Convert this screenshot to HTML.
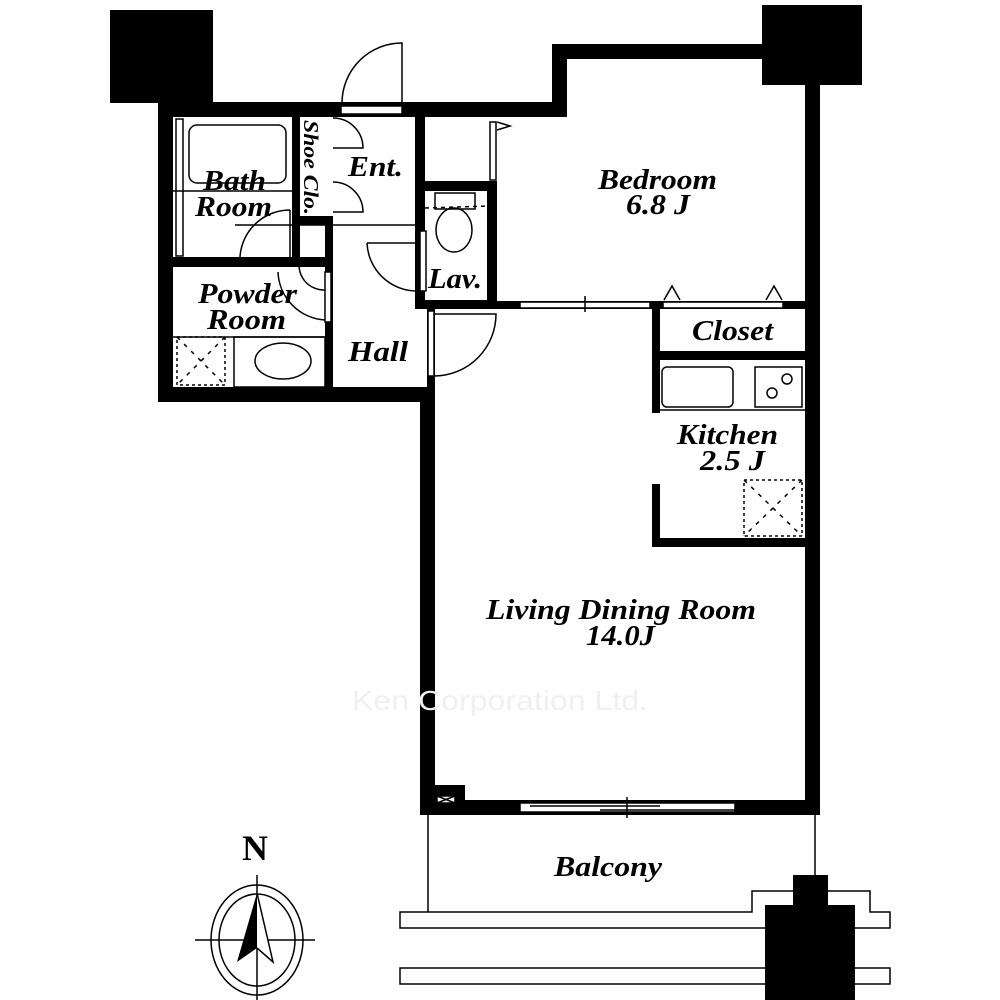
<!DOCTYPE html>
<html><head><meta charset="utf-8"><style>
html,body{margin:0;padding:0;background:#fff;}
svg{display:block;}
text{font-family:"Liberation Serif",serif;font-style:italic;font-weight:bold;fill:#000;}
</style></head><body>
<svg width="1000" height="1000" viewBox="0 0 1000 1000" xmlns="http://www.w3.org/2000/svg">
<g fill="#000">
<rect x="110" y="10" width="103" height="93"/>
<rect x="762" y="5" width="100" height="80"/>
<rect x="158" y="102" width="409" height="15"/>
<rect x="552" y="44" width="15" height="73"/>
<rect x="552" y="44" width="220" height="15"/>
<rect x="805" y="80" width="15" height="735"/>
<rect x="158" y="102" width="15" height="300"/>
<rect x="158" y="387" width="277" height="15"/>
<rect x="420" y="387" width="15" height="428"/>
<rect x="420" y="800" width="400" height="15"/>
<rect x="420" y="785" width="45" height="20"/>
<rect x="292" y="117" width="8" height="150"/>
<rect x="173" y="257" width="152" height="10"/>
<rect x="300" y="216" width="33" height="9"/>
<rect x="325" y="216" width="8" height="171"/>
<rect x="415" y="117" width="10" height="192"/>
<rect x="425" y="181" width="72" height="10"/>
<rect x="487" y="181" width="10" height="128"/>
<rect x="415" y="300" width="82" height="9"/>
<rect x="427" y="300" width="8" height="100"/>
<rect x="487" y="301" width="318" height="8"/>
<rect x="652" y="301" width="8" height="112"/>
<rect x="652" y="351" width="153" height="9"/>
<rect x="652" y="484" width="8" height="63"/>
<rect x="652" y="538" width="153" height="9"/>
</g>
<g fill="#fff" stroke="#000" stroke-width="1.5">
<rect x="341" y="106" width="61" height="8"/>
<rect x="520" y="302" width="130" height="6"/>
<rect x="663" y="302" width="120" height="6"/>
<rect x="520" y="803" width="215" height="9"/>
<rect x="428" y="311" width="6" height="65"/>
<rect x="490" y="122" width="6" height="58"/>
<rect x="176" y="119" width="7" height="137"/>
<rect x="420" y="231" width="6" height="60"/>
<rect x="325" y="272" width="6" height="50"/>
<rect x="437" y="796" width="18" height="7"/>
</g>
<g fill="none" stroke="#000" stroke-width="1.5">
<path d="M437 796 L455 803 M455 796 L437 803"/>
<path d="M402 103 V43 A60 60 0 0 0 342 103"/>
<path d="M333 118 A30 30 0 0 1 363 148 H333"/>
<path d="M333 182 A30 30 0 0 1 363 212 H333"/>
<path d="M290 210 A50 50 0 0 0 240 257"/>
<line x1="290" y1="210" x2="290" y2="257"/>
<path d="M278 272 A50 50 0 0 0 325 320"/>
<path d="M300 258 A25 25 0 0 0 325 290"/>
<path d="M367 243 A50 50 0 0 0 417 291"/>
<line x1="367" y1="243" x2="417" y2="243"/>
<path d="M435 314 H496 A62 62 0 0 1 435 376"/>
<rect x="189" y="125" width="97" height="58" rx="8"/>
<line x1="173" y1="191" x2="292" y2="191"/>
<line x1="235" y1="225" x2="415" y2="225" />
<line x1="173" y1="337" x2="325" y2="337"/>
<rect x="234" y="337" width="91" height="50"/>
<ellipse cx="283" cy="361" rx="28" ry="18"/>
<rect x="177" y="337" width="48" height="48" stroke-dasharray="3,3"/>
<path d="M177 337 L225 385 M225 337 L177 385" stroke-dasharray="4,6"/>
<rect x="435" y="193" width="40" height="16"/>
<line x1="425" y1="208" x2="487" y2="206" stroke-dasharray="4,4"/>
<ellipse cx="454" cy="230" rx="18" ry="22"/>
<path d="M664 300 L672 286 L680 300"/>
<path d="M766 300 L774 286 L782 300"/>
<path d="M497 122 L510 126 L497 130"/>
<rect x="662" y="367" width="71" height="40" rx="5"/>
<rect x="755" y="367" width="47" height="40"/>
<circle cx="772" cy="393" r="5"/>
<circle cx="787" cy="379" r="5"/>
<line x1="660" y1="410" x2="805" y2="410"/>
<rect x="744" y="480" width="58" height="56" stroke-dasharray="3,3"/>
<path d="M744 480 L802 536 M802 480 L744 536" stroke-dasharray="4,6"/>
<line x1="585" y1="296" x2="585" y2="312"/>
<line x1="627" y1="797" x2="627" y2="818"/>
<line x1="530" y1="806" x2="660" y2="806"/>
<line x1="600" y1="810" x2="735" y2="810"/>
<line x1="428" y1="815" x2="428" y2="912"/>
<line x1="815" y1="815" x2="815" y2="908"/>
<path d="M400 912 H752 V891 H870 V912 H890 V928 H400 Z"/>
<rect x="400" y="968" width="490" height="16"/>
</g>
<g fill="#000">
<rect x="793" y="875" width="35" height="32"/>
<rect x="765" y="905" width="90" height="95"/>
</g>
<g fill="none" stroke="#000" stroke-width="1.5">
<ellipse cx="257" cy="940" rx="46" ry="55"/>
<ellipse cx="257" cy="940" rx="38" ry="46"/>
<line x1="257" y1="875" x2="257" y2="1000"/>
<line x1="195" y1="940" x2="315" y2="940"/>
</g>
<path d="M257 893 L237 962 L257 948 Z" fill="#000"/>
<path d="M257 893 L273 962 L257 948" fill="#fff" stroke="#000" stroke-width="1.5"/>
<text x="255" y="860" font-size="36" text-anchor="middle" style="font-style:normal">N</text>
<g font-size="28" lengthAdjust="spacingAndGlyphs">
<text x="203" y="190" textLength="63" lengthAdjust="spacingAndGlyphs">Bath</text>
<text x="195" y="216" textLength="77" lengthAdjust="spacingAndGlyphs">Room</text>
<text x="348" y="176" textLength="55" lengthAdjust="spacingAndGlyphs">Ent.</text>
<text x="428" y="288" textLength="54" lengthAdjust="spacingAndGlyphs">Lav.</text>
<text x="198" y="303" textLength="99" lengthAdjust="spacingAndGlyphs">Powder</text>
<text x="207" y="329" textLength="79" lengthAdjust="spacingAndGlyphs">Room</text>
<text x="348" y="361" textLength="60" lengthAdjust="spacingAndGlyphs">Hall</text>
<text x="598" y="189" textLength="119" lengthAdjust="spacingAndGlyphs">Bedroom</text>
<text x="626" y="214" textLength="64" lengthAdjust="spacingAndGlyphs">6.8 J</text>
<text x="692" y="340" textLength="81" lengthAdjust="spacingAndGlyphs">Closet</text>
<text x="677" y="444" textLength="101" lengthAdjust="spacingAndGlyphs">Kitchen</text>
<text x="700" y="470" textLength="65" lengthAdjust="spacingAndGlyphs">2.5 J</text>
<text x="486" y="619" textLength="270" lengthAdjust="spacingAndGlyphs">Living Dining Room</text>
<text x="586" y="645" textLength="69" lengthAdjust="spacingAndGlyphs">14.0J</text>
<text x="554" y="876" textLength="108" lengthAdjust="spacingAndGlyphs">Balcony</text>
</g>
<text x="304" y="120" font-size="21" textLength="95" lengthAdjust="spacingAndGlyphs" transform="rotate(90 304 120)">Shoe Clo.</text>
<text x="352" y="710" font-size="28" textLength="296" lengthAdjust="spacingAndGlyphs" style="font-family:'Liberation Sans',sans-serif;font-style:normal;font-weight:normal;fill:#f0f0f0">Ken Corporation Ltd.</text>
</svg>
</body></html>
